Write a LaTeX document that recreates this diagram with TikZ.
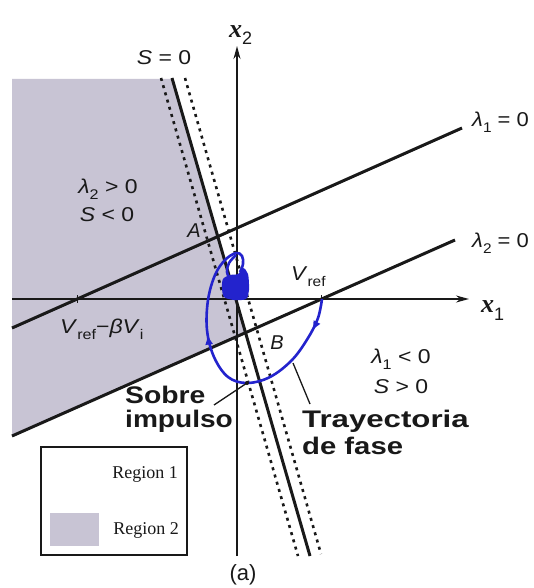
\documentclass[tikz,border=0pt]{standalone}
\usepackage{fontspec}
\setmainfont{Liberation Sans}
\newfontfamily\seriffont{Liberation Serif}
\usetikzlibrary{arrows.meta,decorations.markings}
\definecolor{regiongray}{RGB}{200,196,212}
\definecolor{trajblue}{RGB}{35,35,205}
\definecolor{inkgray}{RGB}{25,25,25}
\newcommand{\hs}[2]{\scalebox{#1}[1]{#2}}
\newcommand{\labfont}{\fontsize{20}{22}\selectfont}
\newcommand{\boldtxtfont}{\fontsize{24}{26}\selectfont\bfseries}
\newcommand{\subtxt}[1]{\raisebox{-0.3em}{\fontsize{14}{15}\selectfont #1}}
\newcommand{\xfont}{\seriffont\fontsize{26}{28}\selectfont\bfseries\itshape}
\begin{document}
\begin{tikzpicture}[x=1pt,y=-1pt,
  lab/.style={inner sep=0pt, font=\labfont, text=inkgray},
  boldtxt/.style={inner sep=0pt, anchor=base west, font=\boldtxtfont, text=inkgray},
  mainline/.style={line width=3pt, inkgray},
  dotline/.style={line width=2.6pt, dash pattern=on 3pt off 4.5pt, inkgray},
  axisline/.style={line width=1.5pt, inkgray, -{Stealth[length=13pt,width=7pt]}},
  pointer/.style={line width=1.3pt, inkgray},
  traj/.style={trajblue, line width=2.6pt},
  regionlab/.style={inner sep=0pt, font=\seriffont\fontsize{18}{20}\selectfont, text=inkgray}
]
\useasboundingbox (0,0) rectangle (534,588);
\fill[white] (0,0) rectangle (534,588);
% key coordinates
\coordinate (Sa) at (172,78);  \coordinate (Sb) at (310,556);
\coordinate (Da) at (161,78);  \coordinate (Db) at (298,556);
\coordinate (Ea) at (185,78);  \coordinate (Eb) at (321,554);
\coordinate (L1a) at (12,328); \coordinate (L1b) at (462,128);
\coordinate (L2a) at (12,436); \coordinate (L2b) at (455,240);
\coordinate (X0) at (12,299);  \coordinate (X1) at (469,299);
\coordinate (Y0) at (237,556); \coordinate (Y1) at (237,46);
\coordinate (P) at (intersection of Sa--Sb and L2a--L2b);
\coordinate (vref) at (intersection of L2a--L2b and X0--X1);
\coordinate (vb) at (intersection of L1a--L1b and X0--X1);
% region 2
\fill[regiongray] (12,79) -- (172,79) -- (P) -- (L2a) -- cycle;
% switching lines
\draw[dotline] (Da) -- (Db);
\draw[dotline] (Ea) -- (Eb);
\draw[mainline] (Sa) -- (Sb);
\draw[mainline] (L1a) -- (L1b);
\draw[mainline] (L2a) -- (L2b);
% axes
\draw[axisline] (X0) -- (X1);
\draw[axisline] (Y0) -- (Y1);
\draw[line width=1.5pt, inkgray] ([yshift=4pt]vb) -- ([yshift=-4pt]vb);
\draw[line width=1.5pt, inkgray] ([yshift=4pt]vref) -- ([yshift=-4pt]vref);
% phase trajectory
\draw[traj, postaction={decorate}, decoration={markings,
    mark=at position 0.11 with {\arrow{Latex[length=10pt,width=8pt]}},
    mark=at position 0.62 with {\arrow{Latex[length=10pt,width=8pt]}}}]
  plot[smooth, tension=0.6] coordinates {(322,299) (318,318) (308,338) (292,360) (270,377) (247,383) (228,377) (214,357) (207,330) (208,300) (215,275) (225,260) (236,253) (242,256) (243,264) (240,272)};
\draw[traj] plot[smooth, tension=0.6] coordinates {(236,255) (229,263) (227,272) (230,279)};
\fill[trajblue] plot[smooth cycle, tension=0.5] coordinates {(223,279) (230,275) (238,274) (243,268) (248,274) (249,290) (246,299) (234,300) (224,297) (222,288)};
% pointers
\coordinate (ovs) at (247,383);
\coordinate (ovsTail) at (214,405);
\coordinate (trj) at (293,363);
\coordinate (trjTail) at (310,404);
\draw[pointer] (ovsTail) -- (ovs);
\fill[inkgray] (ovs) circle (2pt);
\draw[pointer] (trjTail) -- (trj);
% labels
\node[anchor=base west, inner sep=0pt, text=inkgray] (x2lab) at (229,38) {{\xfont x}\raisebox{-7pt}{\fontsize{18}{19}\selectfont 2}};
\node[anchor=base west, inner sep=0pt, text=inkgray] (x1lab) at (481,312) {{\xfont x}\raisebox{-8pt}{\fontsize{18}{19}\selectfont 1}};
\node[lab, anchor=base] (s0) at (164,65) {\hs{1.15}{\textit{S} = 0}};
\node[lab, anchor=base] (l2p) at (108,193) {\hs{1.15}{\textit{λ}\subtxt{2} > 0}};
\node[lab, anchor=base] (sneg) at (107,221) {\hs{1.15}{\textit{S} < 0}};
\node[lab, anchor=base] (l1n) at (401,363) {\hs{1.15}{\textit{λ}\subtxt{1} < 0}};
\node[lab, anchor=base] (spos) at (401,393) {\hs{1.15}{\textit{S} > 0}};
\node[lab, anchor=base west] (l1z) at (472,127) {\hs{1.1}{\textit{λ}\subtxt{1} = 0}};
\node[lab, anchor=base west] (l2z) at (472,247) {\hs{1.1}{\textit{λ}\subtxt{2} = 0}};
\node[lab] (alab) at (194,231) {\textit{A}};
\node[lab] (blab) at (277,343) {\textit{B}};
\node[lab, anchor=base west] (vreflab) at (291,280) {\hs{1.1}{\textit{V}\subtxt{ref}}};
\node[lab, anchor=base west] (vblab) at (60,333) {\hs{1.15}{\textit{V}\subtxt{ref}−\textit{βV}\subtxt{i}}};
\node[boldtxt] (sobre) at (125,403) {\hs{1.18}{Sobre}};
\node[boldtxt] (impulso) at (125,427) {\hs{1.17}{impulso}};
\node[boldtxt] (tray) at (302,427) {\hs{1.3}{Trayectoria}};
\node[boldtxt] (fase) at (302,454) {\hs{1.22}{de fase}};
% legend
\draw[line width=1.6pt, inkgray] (41,447) rectangle (187,555);
\fill[regiongray] (50,513) rectangle (99,546);
\node[regionlab] (r1) at (145,474) {Region 1};
\node[regionlab] (r2) at (146,530) {Region 2};
\node[inner sep=0pt, font=\fontsize{22}{24}\selectfont, text=inkgray] (cap) at (243,575) {(a)};
\end{tikzpicture}
\end{document}
